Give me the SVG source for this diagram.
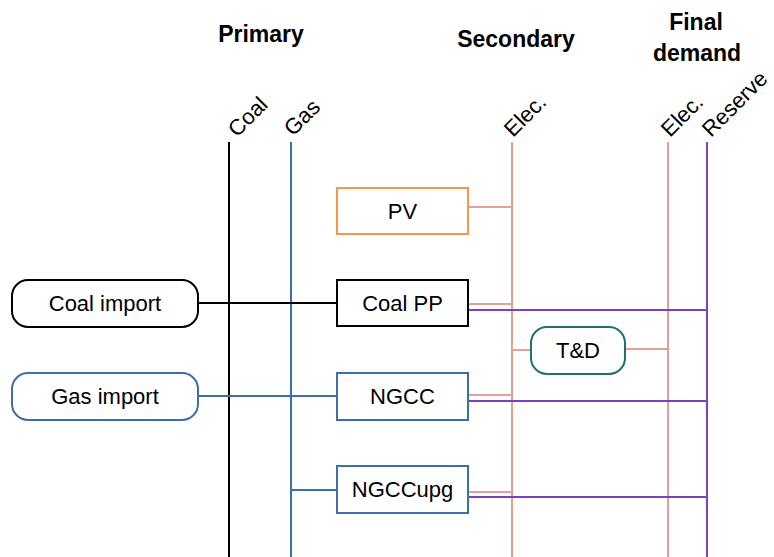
<svg xmlns="http://www.w3.org/2000/svg" width="774" height="557" viewBox="0 0 774 557">
<style>
text{font-family:"Liberation Sans",Arial,sans-serif;fill:#000}
.hd{font-size:23px;font-weight:bold;text-anchor:middle}
.lb{font-size:22px}
.nt{font-size:22px;text-anchor:middle;dominant-baseline:central}
.box{fill:#fff;stroke-width:2}
.k{stroke:#000;fill:none;stroke-width:2}
.b{stroke:#3e6ea8;fill:none;stroke-width:2}
.p{stroke:#e3a195;fill:none;stroke-width:2}
.v{stroke:#7e3fbf;fill:none;stroke-width:2}
</style>
<rect width="774" height="557" fill="#fff"/>
<g id="headers">
<text class="hd" x="261" y="42">Primary</text>
<text class="hd" x="516" y="47">Secondary</text>
<text class="hd" x="696" y="30">Final</text>
<text class="hd" x="697" y="61">demand</text>
</g>
<g id="bus-labels">
<text class="lb" transform="translate(237,138) rotate(-45)">Coal</text>
<text class="lb" transform="translate(293,137) rotate(-45)">Gas</text>
<text class="lb" transform="translate(513,138) rotate(-45)">Elec.</text>
<text class="lb" transform="translate(670,138) rotate(-45)">Elec.</text>
<text class="lb" transform="translate(711,138) rotate(-45)">Reserve</text>
</g>
<g id="connectors">
<line class="k" x1="229" y1="142" x2="229" y2="557"/>
<line class="b" x1="291" y1="142" x2="291" y2="557"/>
<line class="p" x1="512" y1="142" x2="512" y2="557"/>
<line class="p" x1="668" y1="142" x2="668" y2="557"/>
<line class="v" x1="707" y1="142" x2="707" y2="557"/>
<line class="p" x1="468" y1="207" x2="512" y2="207"/>
<line class="k" x1="198" y1="303" x2="337" y2="303"/>
<line class="p" x1="468" y1="304" x2="512" y2="304"/>
<line class="v" x1="468" y1="310" x2="707" y2="310"/>
<line class="p" x1="512" y1="350" x2="531" y2="350"/>
<line class="p" x1="625" y1="349" x2="668" y2="349"/>
<line class="b" x1="198" y1="396" x2="337" y2="396"/>
<line class="p" x1="468" y1="395" x2="512" y2="395"/>
<line class="v" x1="468" y1="401" x2="707" y2="401"/>
<line class="b" x1="291" y1="490" x2="337" y2="490"/>
<line class="p" x1="468" y1="492" x2="512" y2="492"/>
<line class="v" x1="468" y1="497" x2="707" y2="497"/>
</g>
<g id="pv"><rect class="box" x="337" y="188" width="131" height="46" stroke="#f79646"/><text class="nt" x="402.5" y="211">PV</text></g>
<g id="coal-pp"><rect class="box" x="337" y="280" width="131" height="46" stroke="#000"/><text class="nt" x="402.5" y="303">Coal PP</text></g>
<g id="ngcc"><rect class="box" x="337" y="373" width="131" height="47" stroke="#3e6ea8"/><text class="nt" x="402.5" y="396.5">NGCC</text></g>
<g id="ngccupg"><rect class="box" x="337" y="466" width="131" height="47" stroke="#3e6ea8"/><text class="nt" x="402.5" y="489.5">NGCCupg</text></g>
<g id="coal-import"><rect class="box" x="12" y="280" width="186" height="47" rx="16" stroke="#000"/><text class="nt" x="105" y="303.5">Coal import</text></g>
<g id="gas-import"><rect class="box" x="12" y="373" width="186" height="47" rx="16" stroke="#3e6ea8"/><text class="nt" x="105" y="396.5">Gas import</text></g>
<g id="td"><rect class="box" x="531" y="327" width="94" height="47" rx="16" stroke="#1b7270"/><text class="nt" x="578" y="350.5">T&amp;D</text></g>
</svg>
